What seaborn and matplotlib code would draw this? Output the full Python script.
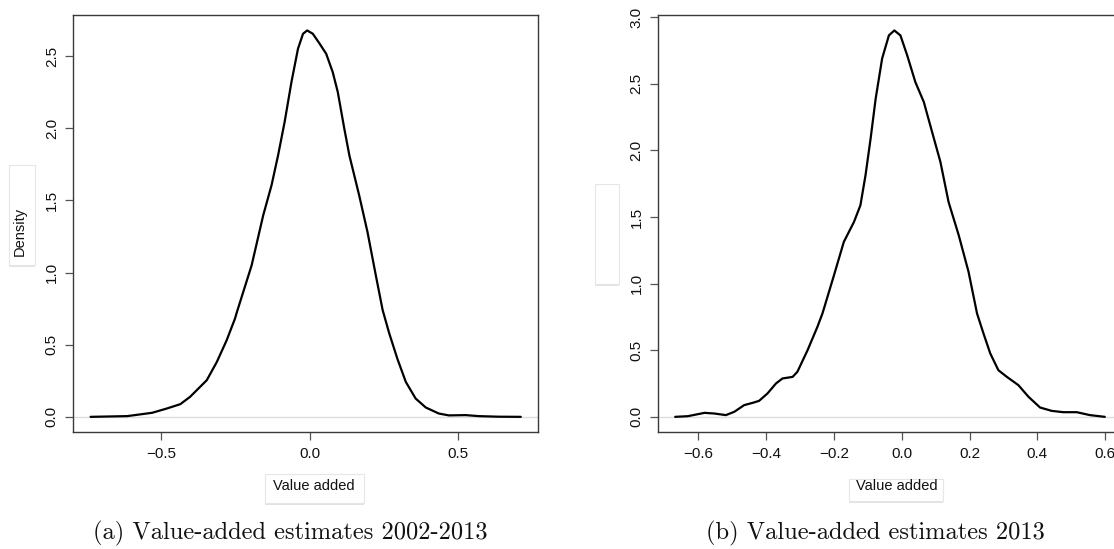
import numpy as np
import pandas as pd
import matplotlib
matplotlib.use("Agg")
import matplotlib.pyplot as plt
import matplotlib.patches as mpatches
import seaborn as sns

# density curve for all years 2002-2013
va_all_x = [-0.737, -0.614, -0.530, -0.480, -0.435, -0.402, -0.346, -0.312, -0.279,
            -0.251, -0.2455, -0.195, -0.156, -0.128, -0.106, -0.084, -0.061, -0.039,
            -0.022, -0.008, 0.011, 0.034, 0.056, 0.078, 0.095, 0.117, 0.134, 0.167,
            0.195, 0.223, 0.246, 0.268, 0.296, 0.324, 0.357, 0.391, 0.435, 0.469,
            0.525, 0.569, 0.636, 0.711]
va_all_y = [0.000, 0.005, 0.028, 0.058, 0.088, 0.139, 0.254, 0.381, 0.531,
            0.681, 0.720, 1.050, 1.397, 1.605, 1.812, 2.043, 2.320, 2.551,
            2.655, 2.678, 2.655, 2.586, 2.516, 2.389, 2.251, 1.997, 1.812, 1.535,
            1.281, 0.981, 0.740, 0.580, 0.400, 0.242, 0.127, 0.065, 0.023, 0.010,
            0.012, 0.005, 0.001, 0.000]

# density curve for 2013 only
va_13_x = [-0.6685, -0.631, -0.582, -0.553, -0.519, -0.494, -0.465, -0.440, -0.421,
           -0.396, -0.371, -0.352, -0.322, -0.308, -0.278, -0.249, -0.234, -0.200,
           -0.171, -0.141, -0.122, -0.107, -0.092, -0.077, -0.058, -0.038, -0.022,
           -0.004, 0.016, 0.040, 0.065, 0.084, 0.114, 0.138, 0.168, 0.197, 0.222,
           0.241, 0.261, 0.285, 0.310, 0.344, 0.374, 0.408, 0.442, 0.476, 0.516,
           0.555, 0.599]
va_13_y = [0.000, 0.005, 0.030, 0.025, 0.013, 0.038, 0.088, 0.105, 0.120,
           0.176, 0.251, 0.288, 0.300, 0.338, 0.500, 0.675, 0.776, 1.063,
           1.313, 1.463, 1.588, 1.813, 2.088, 2.389, 2.689, 2.863, 2.900,
           2.863, 2.713, 2.513, 2.363, 2.188, 1.913, 1.613, 1.363, 1.088, 0.776,
           0.626, 0.476, 0.350, 0.300, 0.238, 0.150, 0.070, 0.045, 0.035, 0.035,
           0.013, 0.000]

xticks_a = [-0.5, 0.0, 0.5]
yticks_a = [0.0, 0.5, 1.0, 1.5, 2.0, 2.5]
xticks_b = [-0.6, -0.4, -0.2, 0.0, 0.2, 0.4, 0.6]
yticks_b = [0.0, 0.5, 1.0, 1.5, 2.0, 2.5, 3.0]

caption_a = "(a) Value-added estimates 2002-2013"
caption_b = "(b) Value-added estimates 2013"
xlabel = "Value added"
ylabel = "Density"

sns.set_style("ticks")
plt.rcParams["font.family"] = ["Liberation Sans", "DejaVu Sans"]
plt.rcParams["lines.solid_joinstyle"] = "round"

W, H = 1114, 549
fig = plt.figure(figsize=(W / 100, H / 100), dpi=100)


def rect(x0, y0, x1, y1):
    # pixel box (top-left origin) -> figure fraction
    return [x0 / W, (H - y1) / H, (x1 - x0) / W, (y1 - y0) / H]


def r_lims(vals):
    lo, hi = min(vals), max(vals)
    pad = 0.04 * (hi - lo)
    return lo - pad, hi + pad


def draw_panel(ax, xs, ys, xticks, yticks):
    df = pd.DataFrame({"x": xs, "y": ys})
    ax.axhline(0, color="#dcdcdc", lw=1.0, zorder=1)
    sns.lineplot(data=df, x="x", y="y", sort=False, estimator=None,
                 color="black", lw=1.6, ax=ax, zorder=3)
    ax.set_xlim(*r_lims(xs))
    ax.set_ylim(*r_lims(ys))
    ax.set_xticks(xticks)
    ax.set_yticks(yticks)
    ax.set_xlabel("")
    ax.set_ylabel("")
    for s in ax.spines.values():
        s.set_color("#3a3a3a")
        s.set_linewidth(1.0)
    ax.tick_params(direction="out", length=5.5, width=0.9, color="#555555",
                   labelsize=11, labelcolor="#111111")
    ax.tick_params(axis="x", pad=5)
    ax.tick_params(axis="y", pad=5)
    for lab in ax.get_yticklabels():
        lab.set_rotation(90)
        lab.set_va("center")


ax_a = fig.add_axes(rect(73.4, 15, 538, 432.3))
draw_panel(ax_a, va_all_x, va_all_y, xticks_a, yticks_a)

ax_b = fig.add_axes(rect(658, 15, 1122, 432.3))
draw_panel(ax_b, va_13_x, va_13_y, xticks_b, yticks_b)


def label_box(x0, y0, x1, y1):
    shadow = mpatches.Rectangle((x0 / W, (H - y1 - 1.5) / H), (x1 - x0) / W, (y1 - y0) / H,
                                transform=fig.transFigure, facecolor="#d0d0d0",
                                edgecolor="none", alpha=0.6, zorder=5)
    box = mpatches.Rectangle((x0 / W, (H - y1) / H), (x1 - x0) / W, (y1 - y0) / H,
                             transform=fig.transFigure, facecolor="white",
                             edgecolor="#e6e6e6", lw=0.8, zorder=6)
    fig.add_artist(shadow)
    fig.add_artist(box)


# the boxed axis labels
label_box(9.3, 165, 35, 265)
fig.text(20 / W, 1 - 231.7 / H, ylabel, rotation=90, ha="center", va="center",
         fontsize=10.5, color="#111111", zorder=7)
label_box(595, 184, 619.3, 284)

label_box(265, 474, 364, 503)
fig.text(314 / W, 1 - 486 / H, xlabel, ha="center", va="center",
         fontsize=10.5, color="#111111", zorder=7)
label_box(848.5, 479, 942.7, 501)
fig.text(897 / W, 1 - 486 / H, xlabel, ha="center", va="center",
         fontsize=10.5, color="#111111", zorder=7)

# captions
fig.text(290 / W, 1 - 533 / H, caption_a, ha="center", va="center",
         fontsize=17.6, family=["cmr10", "DejaVu Serif"], color="#111111")
fig.text(875.5 / W, 1 - 533 / H, caption_b, ha="center", va="center",
         fontsize=17.6, family=["cmr10", "DejaVu Serif"], color="#111111")

fig.savefig("out.png", dpi=100)
